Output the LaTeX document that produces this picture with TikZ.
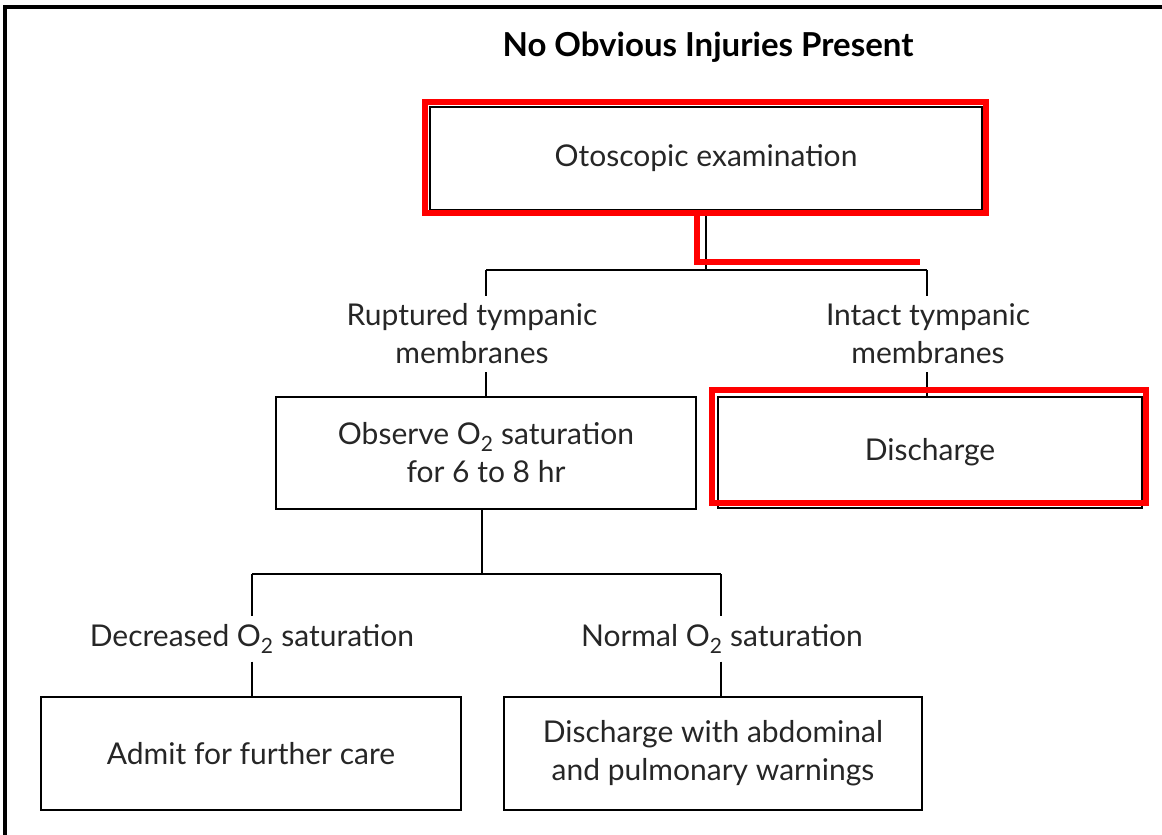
\documentclass[tikz,border=0pt]{standalone}
\usepackage{fontspec}
\setmainfont{Lato}
\usetikzlibrary{positioning}
\begin{document}
\begin{tikzpicture}[x=1pt,y=-1pt,
  box/.style={draw,line width=2.5pt,minimum width=420pt,minimum height=112pt,
    align=center,inner sep=0pt,text=black!85,font=\fontsize{30}{38}\selectfont},
  lbl/.style={align=center,inner sep=8pt,text=black!85,font=\fontsize{30}{38}\selectfont},
  link/.style={line width=2.5pt},
  hilite/.style={draw=red,line width=6pt}]
\useasboundingbox (0,0) rectangle (1162,835);
\draw[line width=4pt] (5,835) -- (5,7) -- (1162,7);

\node[font=\bfseries\fontsize{33}{36}\selectfont] (title) at (708,47) {No Obvious Injuries Present};
\node[box,minimum width=552pt,minimum height=103pt] (oto) at (706,158.5) {Otoscopic examination};
\node[lbl] (rupt) at (472,334) {Ruptured tympanic\\membranes};
\node[lbl] (intact) at (928,334) {Intact tympanic\\membranes};
\node[box] (obs) at (486,453) {Observe O\textsubscript{2} saturation\\for 6 to 8 hr};
\node[box,minimum width=424pt,minimum height=111pt] (dis) at (930,452.5) {Discharge};
\node[lbl] (decr) at (252,639) {Decreased O\textsubscript{2} saturation};
\node[lbl] (norm) at (722,639) {Normal O\textsubscript{2} saturation};
\node[box,minimum height=113pt] (admit) at (251,753.5) {Admit for further care};
\node[box,minimum width=418pt,minimum height=113pt] (dwith) at (713,753.5) {Discharge with abdominal\\and pulmonary warnings};

\coordinate (split1L) at (486,270);
\coordinate (split1R) at (927,270);
\coordinate (split2L) at (252,574);
\coordinate (split2R) at (721,574);

\draw[link] (oto.south) -- (oto.south |- split1L);
\draw[link] (split1L) -- (split1R);
\draw[link] (split1L) -- (split1L |- rupt.north);
\draw[link] (split1R) -- (split1R |- intact.north);
\draw[link] (rupt.south -| obs.north) -- (obs.north);
\draw[link] (intact.south -| split1R) -- (split1R |- dis.north);
\draw[link] ([xshift=-4pt]obs.south) -- ([xshift=-4pt]obs.south |- split2L);
\draw[link] (split2L) -- (split2R);
\draw[link] (split2L) -- (split2L |- decr.north);
\draw[link] (split2R) -- (split2R |- norm.north);
\draw[link] (decr.south -| split2L) -- (split2L |- admit.north);
\draw[link] (norm.south -| split2R) -- (split2R |- dwith.north);

% red marks
\coordinate (markend) at (920,262);
\draw[hilite] ([shift={(-4,-4)}]oto.north west) rectangle ([shift={(3,2)}]oto.south east);
\draw[hilite] ([xshift=-9pt]oto.south) ++(0,5) |- (markend);
\draw[hilite] ([shift={(-5,-6)}]dis.north west) rectangle ([shift={(3,-6)}]dis.south east);
\end{tikzpicture}
\end{document}
